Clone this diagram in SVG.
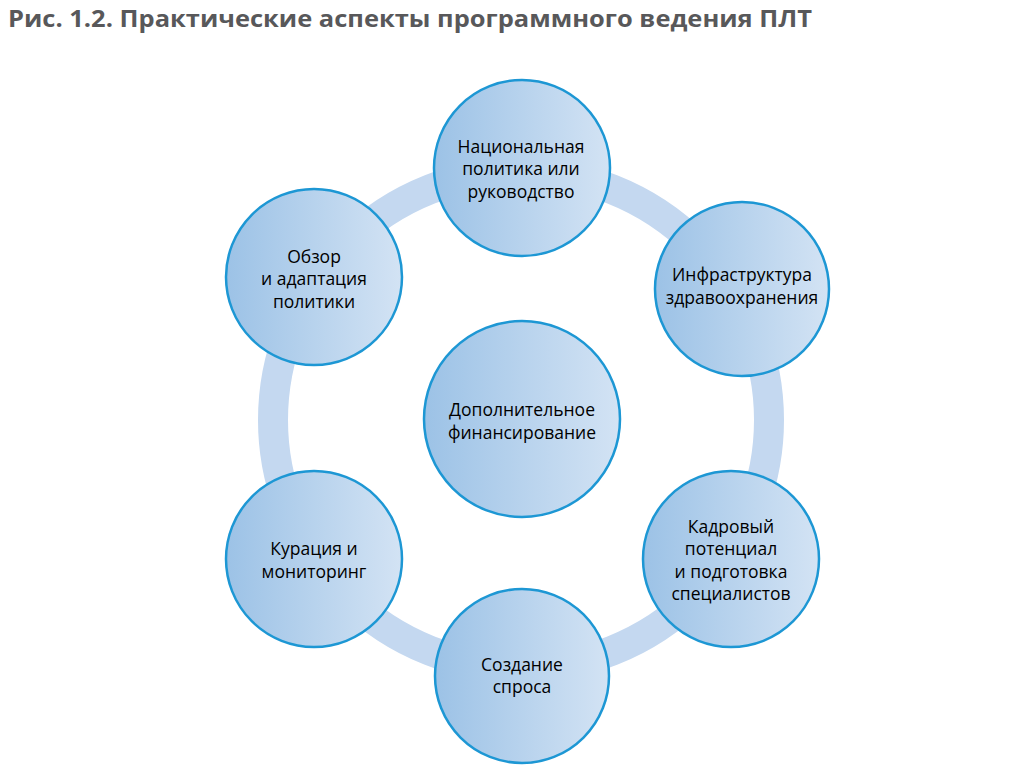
<svg xmlns="http://www.w3.org/2000/svg" width="1024" height="784" viewBox="0 0 1024 784">
<defs>
<linearGradient id="g" x1="0" y1="0" x2="1" y2="0">
<stop offset="0" stop-color="#9cc2e6"/>
<stop offset="1" stop-color="#d3e3f4"/>
</linearGradient>
<style>
.c{fill:url(#g);stroke:#1d97d4;stroke-width:2.5}
.t{font-family:"Open Sans","Noto Sans",sans-serif;font-size:17.5px;fill:#000;text-anchor:middle}
.title{font-family:"Open Sans","Noto Sans",sans-serif;font-size:24px;font-weight:bold;fill:#58585a}
</style>
</defs>
<rect width="1024" height="784" fill="#fff"/>
<text class="title" x="8" y="27" textLength="804" lengthAdjust="spacingAndGlyphs">Рис. 1.2. Практические аспекты программного ведения ПЛТ</text>
<g id="connectors">
<circle cx="521" cy="420" r="248" fill="none" stroke="#c4d8f0" stroke-width="30"/>
</g>
<g id="center">
<circle class="c" cx="522" cy="419" r="98"/>
<text class="t" x="522" y="416">Дополнительное</text>
<text class="t" x="522" y="439">финансирование</text>
</g>
<g id="top">
<circle class="c" cx="522" cy="168" r="88"/>
<text class="t" x="521" y="153">Национальная</text>
<text class="t" x="521" y="175">политика или</text>
<text class="t" x="521" y="198">руководство</text>
</g>
<g id="upper-right">
<circle class="c" cx="742" cy="289" r="87"/>
<text class="t" x="742" y="281">Инфраструктура</text>
<text class="t" x="742" y="304">здравоохранения</text>
</g>
<g id="lower-right">
<circle class="c" cx="731" cy="559" r="88"/>
<text class="t" x="731" y="533">Кадровый</text>
<text class="t" x="731" y="555">потенциал</text>
<text class="t" x="731" y="578">и подготовка</text>
<text class="t" x="731" y="600">специалистов</text>
</g>
<g id="bottom">
<circle class="c" cx="522" cy="676" r="87"/>
<text class="t" x="522" y="671">Создание</text>
<text class="t" x="522" y="693">спроса</text>
</g>
<g id="lower-left">
<circle class="c" cx="314" cy="559" r="88"/>
<text class="t" x="314" y="555">Курация и</text>
<text class="t" x="314" y="578">мониторинг</text>
</g>
<g id="upper-left">
<circle class="c" cx="314" cy="277" r="88"/>
<text class="t" x="314" y="263">Обзор</text>
<text class="t" x="314" y="285">и адаптация</text>
<text class="t" x="314" y="308">политики</text>
</g>
</svg>
